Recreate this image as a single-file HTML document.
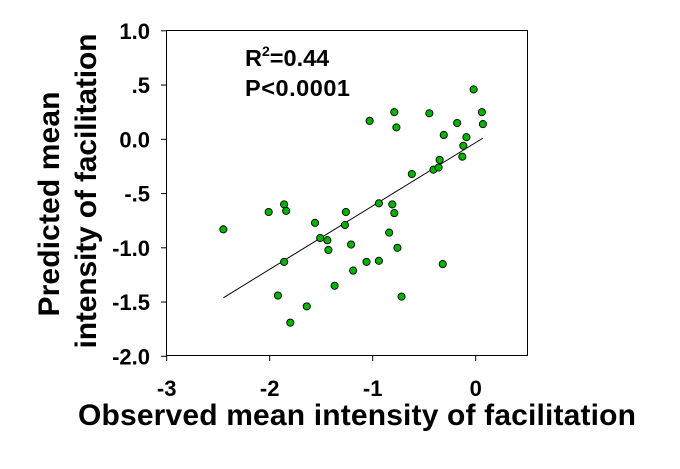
<!DOCTYPE html>
<html><head><meta charset="utf-8"><style>
html,body{margin:0;padding:0;background:#fff;}
svg text{font-family:"Liberation Sans",Arial,sans-serif;font-weight:bold;fill:#000;}
</style></head><body>
<svg id="chart" width="680" height="464" viewBox="0 0 680 464" xmlns="http://www.w3.org/2000/svg">
<rect x="166.5" y="30.5" width="361" height="325" fill="none" stroke="#000" stroke-width="1"/>
<g id="axes"></g>
<g id="marks"></g>
<text x="245" y="66" font-size="23.5">R<tspan font-size="14" dy="-10">2</tspan><tspan dy="10">=0.44</tspan></text>
<text x="245" y="96" font-size="23.5" textLength="105">P&lt;0.0001</text>
<text x="357" y="425" font-size="30" text-anchor="middle" textLength="558">Observed mean intensity of facilitation</text>
<text transform="translate(59,204) rotate(-90)" font-size="30" text-anchor="middle" textLength="225">Predicted mean</text>
<text transform="translate(96,191) rotate(-90)" font-size="30" text-anchor="middle" textLength="315">intensity of facilitation</text>
</svg>
<script>
const xTicks = [-3, -2, -1, 0];
const xTickLabels = ["-3", "-2", "-1", "0"];
const yTicks = [1.0, 0.5, 0.0, -0.5, -1.0, -1.5, -2.0];
const yTickLabels = ["1.0", ".5", "0.0", "-.5", "-1.0", "-1.5", "-2.0"];
const observed = [-2.45,-2.01,-1.86,-1.84,-1.86,-1.92,-1.64,-1.80,-1.56,-1.51,-1.44,-1.43,-1.37,-1.26,-1.27,-1.21,-1.19,-1.06,-0.94,-0.94,-1.03,-0.79,-0.77,-0.81,-0.79,-0.84,-0.76,-0.72,-0.62,-0.45,-0.41,-0.36,-0.35,-0.31,-0.32,-0.18,-0.12,-0.13,-0.09,-0.02,0.06,0.07];
const predicted = [-0.83,-0.67,-0.60,-0.66,-1.13,-1.44,-1.54,-1.69,-0.77,-0.91,-0.93,-1.02,-1.35,-0.67,-0.79,-0.97,-1.21,-1.13,-1.12,-0.59,0.17,0.25,0.11,-0.60,-0.68,-0.86,-1.00,-1.45,-0.32,0.24,-0.28,-0.26,-0.19,0.04,-1.15,0.15,-0.06,-0.16,0.02,0.46,0.25,0.14];
const fitRange = [-2.45, 0.07];
const fitSlope = [0.584];
const fitIntercept = [-0.03];

const NS = "http://www.w3.org/2000/svg";
function sx(v){ return 475.7 + v*103; }
function sy(v){ return 139.3 - v*108.5; }
const axes = document.getElementById('axes');
const marks = document.getElementById('marks');
function mk(tag, attrs, parent){ const e=document.createElementNS(NS,tag); for(const k in attrs) e.setAttribute(k,attrs[k]); parent.appendChild(e); return e; }

xTicks.forEach((t,i)=>{
  const l = mk('line',{x1:sx(t),x2:sx(t),y1:355.5,y2:361,stroke:'#000','stroke-width':1},axes);
  
  
  const tx = mk('text',{x:sx(t),y:396,'font-size':22,'text-anchor':'middle'},axes);
  tx.textContent = xTickLabels[i];
  
  
});
yTicks.forEach((t,i)=>{
  const l = mk('line',{x1:161,x2:166.5,y1:sy(t),y2:sy(t),stroke:'#000','stroke-width':1},axes);
  
  
  const tx = mk('text',{x:150,y:sy(t)+8,'font-size':22,'text-anchor':'end'},axes);
  tx.textContent = yTickLabels[i];
  
  
});
const fl = mk('line',{x1:sx(fitRange[0]),y1:sy(fitIntercept[0]+fitSlope[0]*fitRange[0]),x2:sx(fitRange[1]),y2:sy(fitIntercept[0]+fitSlope[0]*fitRange[1]),stroke:'#000','stroke-width':1},marks);


observed.forEach((v,i)=>{
  const c = mk('circle',{cx:sx(v),cy:sy(predicted[i]),r:3.6,fill:'#00b400',stroke:'#000','stroke-width':0.9},marks);
  
  
});
</script>
</body></html>
